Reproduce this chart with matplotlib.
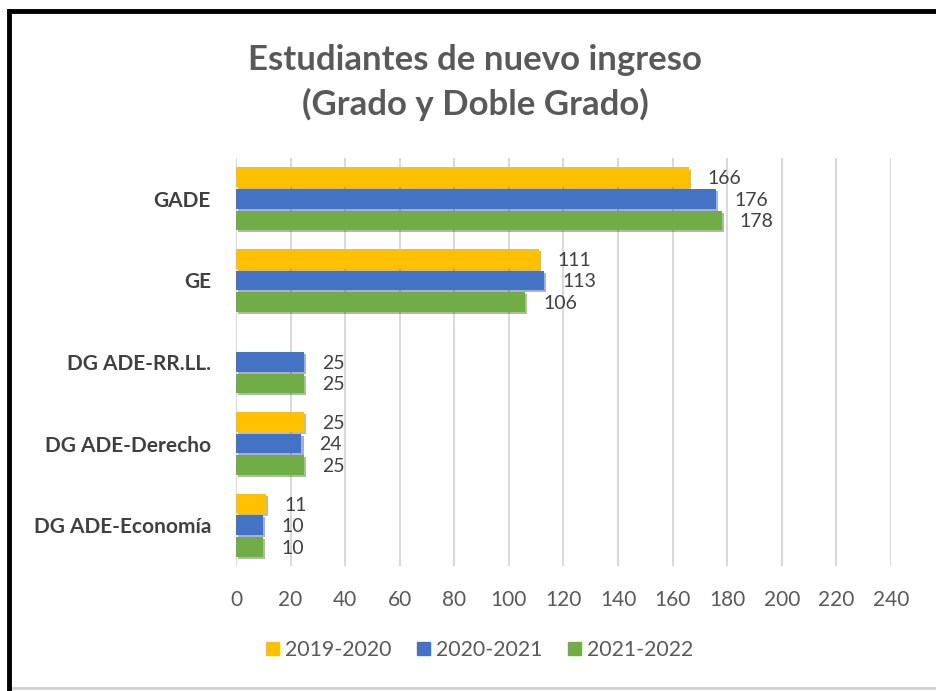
import matplotlib.pyplot as plt
import matplotlib.patheffects as pe
from matplotlib.lines import Line2D
import numpy as np

# datos
categorias = ['GADE', 'GE', 'DG ADE-RR.LL.', 'DG ADE-Derecho', 'DG ADE-Economía']
cursos = ['2019-2020', '2020-2021', '2021-2022']
v_2019 = [166, 111, None, 25, 11]
v_2020 = [176, 113, 25, 24, 10]
v_2021 = [178, 106, 25, 25, 10]
colores = ['#FFC000', '#4472C4', '#70AD47']

plt.rcParams['font.family'] = ['Lato', 'DejaVu Sans']
gris = '#595959'

fig = plt.figure(figsize=(9.37, 6.91), dpi=100)
ax = fig.add_axes([236 / 937, 1 - 566 / 691, 655 / 937, 408 / 691])

y = np.arange(len(categorias))
alto = 0.24
paso = 0.264
sombra = [pe.SimplePatchShadow(offset=(1.5, -1.5), alpha=0.35), pe.Normal()]

for k, (serie, color) in enumerate(zip([v_2019, v_2020, v_2021], colores)):
    for i, v in enumerate(serie):
        if v is None:
            continue
        yy = y[i] + (k - 1) * paso
        b = ax.barh(yy, v, height=alto, color=color, zorder=3)
        b[0].set_path_effects(sombra)
        ax.annotate(str(v), (v, yy), xytext=(13, -1), textcoords='offset points',
                    va='center', ha='left', fontsize=14, color='#404040')

ax.set_xlim(0, 240)
ax.set_ylim(len(categorias) - 0.5, -0.5)
ax.set_xticks(np.arange(0, 241, 20))
ax.set_yticks(y)
ax.set_yticklabels(categorias, fontweight='bold', fontsize=15, color='#404040')
ax.tick_params(axis='y', length=0, pad=18)
ax.tick_params(axis='x', length=0, pad=17, labelsize=15, labelcolor=gris)
ax.grid(axis='x', color='#D9D9D9', linewidth=1.5, zorder=0)
for s in ax.spines.values():
    s.set_visible(False)

fig.text(475 / 937, 1 - 60 / 691, 'Estudiantes de nuevo ingreso', ha='center', va='center',
         fontsize=25, fontweight='bold', color=gris)
fig.text(475 / 937, 1 - 104 / 691, '(Grado y Doble Grado)', ha='center', va='center',
         fontsize=25, fontweight='bold', color=gris)

handles = [plt.Rectangle((0, 0), 1, 1, color=c) for c in colores]
fig.legend(handles, cursos, loc='center', bbox_to_anchor=(480 / 937, 1 - 650 / 691), ncol=3,
           frameon=False, fontsize=15.3, handlelength=0.6, handleheight=0.6, handletextpad=0.3,
           columnspacing=1.2, labelcolor=gris)

# marco
fig.add_artist(Line2D([9 / 937, 9 / 937], [0, 1 - 11 / 691], color='black', linewidth=3.5))
fig.add_artist(Line2D([9 / 937, 1], [1 - 11 / 691, 1 - 11 / 691], color='black', linewidth=3.5))
fig.add_artist(Line2D([13 / 937, 1], [1 - 688 / 691, 1 - 688 / 691], color='#D0D0D0', linewidth=2))

fig.savefig('out.png', dpi=100)
